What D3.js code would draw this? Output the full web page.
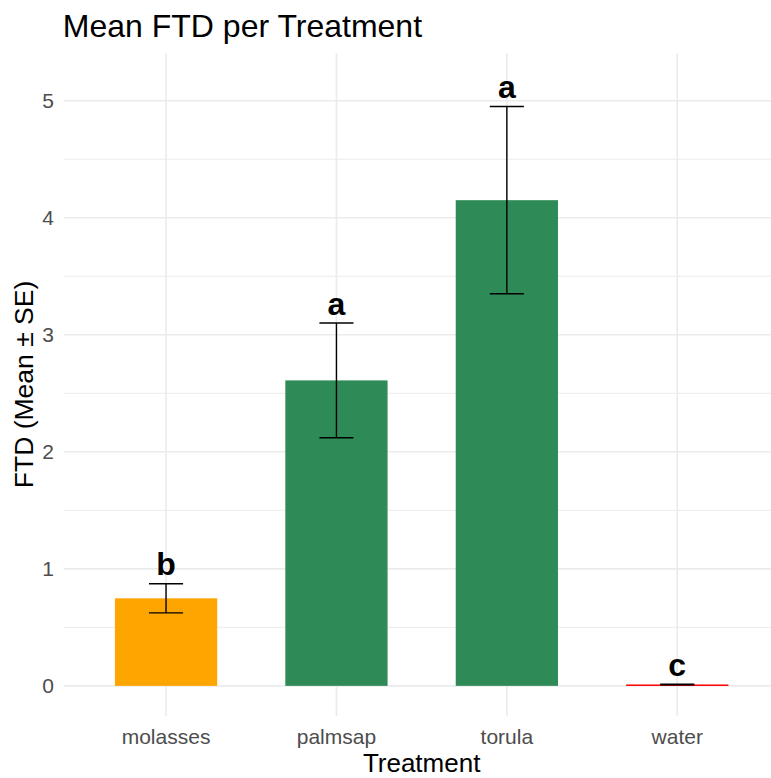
<!DOCTYPE html>
<html>
<head>
<meta charset="utf-8">
<script src="https://cdn.jsdelivr.net/npm/d3@7"></script>
<style>
  html, body { margin: 0; padding: 0; background: #fff; overflow: hidden; }
  svg { display: block; font-family: "Liberation Sans", Arial, sans-serif; }
</style>
</head>
<body>
<div id="chart"></div>
<script>
// data
var treatments = ["molasses", "palmsap", "torula", "water"];
var meanFTD = [0.748, 2.61, 4.15, 0.012];
var seFTD = [0.124, 0.49, 0.80, 0.003];
var groupLetters = ["b", "a", "a", "c"];
var barColors = ["#FFA500", "#2E8B57", "#2E8B57", "#FF0000"];
var yTicks = [0, 1, 2, 3, 4, 5];
var yMinor = [0.5, 1.5, 2.5, 3.5, 4.5];

var W = 771, H = 778;
var panel = { left: 63.8, right: 779.5, top: 53, bottom: 716 };

var rows = treatments.map(function(t, i) {
    return { t: t, mean: meanFTD[i], se: seFTD[i], label: groupLetters[i], color: barColors[i] };
});

// y range like ggplot: labels sit at ymax + 0.2, 5% expansion each side
var labelOffset = 0.2;
var yTop = d3.max(rows, d => d.mean + d.se + labelOffset);
var pad = 0.05 * yTop;
var yScale = d3.scaleLinear().domain([-pad, yTop + pad]).range([panel.bottom, panel.top]);

// discrete x with 0.6 expansion
var xScale = d3.scalePoint().domain(treatments).range([panel.left, panel.right]).padding(0.6);
var step = xScale.step();
var barW = 0.6 * step, capW = 0.2 * step;

var svg = d3.select("#chart").append("svg")
    .attr("width", W).attr("height", H);

var grid = svg.append("g").attr("class", "grid");
// minor y
grid.selectAll("line.minor").data(yMinor).enter().append("line")
    .attr("x1", panel.left).attr("x2", panel.right)
    .attr("y1", d => yScale(d)).attr("y2", d => yScale(d))
    .attr("stroke", "#EBEBEB").attr("stroke-width", 1);
// major y
grid.selectAll("line.majy").data(yTicks).enter().append("line")
    .attr("x1", panel.left).attr("x2", panel.right)
    .attr("y1", d => yScale(d)).attr("y2", d => yScale(d))
    .attr("stroke", "#EBEBEB").attr("stroke-width", 1.6);
// major x
grid.selectAll("line.majx").data(treatments).enter().append("line")
    .attr("x1", d => xScale(d)).attr("x2", d => xScale(d))
    .attr("y1", panel.top).attr("y2", panel.bottom)
    .attr("stroke", "#EBEBEB").attr("stroke-width", 1.6);

// bars
svg.append("g").selectAll("rect").data(rows).enter().append("rect")
    .attr("x", d => xScale(d.t) - barW / 2)
    .attr("width", barW)
    .attr("y", d => yScale(d.mean))
    .attr("height", d => Math.max(yScale(0) - yScale(d.mean), 1.5))
    .attr("fill", d => d.color);

// error bars
var eb = svg.append("g").attr("stroke", "#000").attr("stroke-width", 1.4).attr("fill", "none");
rows.forEach(function(d) {
    var cx = xScale(d.t), y1 = yScale(d.mean + d.se), y0 = yScale(d.mean - d.se);
    eb.append("line").attr("x1", cx).attr("x2", cx).attr("y1", y1).attr("y2", y0);
    eb.append("line").attr("x1", cx - capW / 2).attr("x2", cx + capW / 2).attr("y1", y1).attr("y2", y1);
    eb.append("line").attr("x1", cx - capW / 2).attr("x2", cx + capW / 2).attr("y1", y0).attr("y2", y0);
});

// group letters
svg.append("g").selectAll("text").data(rows).enter().append("text")
    .attr("x", d => xScale(d.t))
    .attr("y", d => yScale(d.mean + d.se + labelOffset) + 15)
    .attr("text-anchor", "middle")
    .style("font-size", "32px").style("font-weight", "bold").attr("fill", "#000")
    .text(d => d.label);

// y tick labels
svg.append("g").selectAll("text").data(yTicks).enter().append("text")
    .attr("x", 54)
    .attr("y", d => yScale(d))
    .attr("dy", "0.36em")
    .attr("text-anchor", "end")
    .style("font-size", "21px").attr("fill", "#4D4D4D")
    .text(d => d);

// x tick labels
svg.append("g").selectAll("text").data(treatments).enter().append("text")
    .attr("x", d => xScale(d))
    .attr("y", 744)
    .attr("text-anchor", "middle")
    .style("font-size", "21px").attr("fill", "#4D4D4D")
    .text(d => d);

// titles
svg.append("text")
    .attr("x", panel.left - 1).attr("y", 37)
    .style("font-size", "32px").attr("fill", "#000")
    .text("Mean FTD per Treatment");

svg.append("text")
    .attr("x", (panel.left + panel.right) / 2).attr("y", 772)
    .attr("text-anchor", "middle")
    .style("font-size", "26px").attr("fill", "#000")
    .text("Treatment");

svg.append("text")
    .attr("transform", "translate(33," + ((panel.top + panel.bottom) / 2) + ") rotate(-90)")
    .attr("text-anchor", "middle")
    .style("font-size", "26.5px").attr("fill", "#000")
    .text("FTD (Mean ± SE)");
</script>
</body>
</html>
